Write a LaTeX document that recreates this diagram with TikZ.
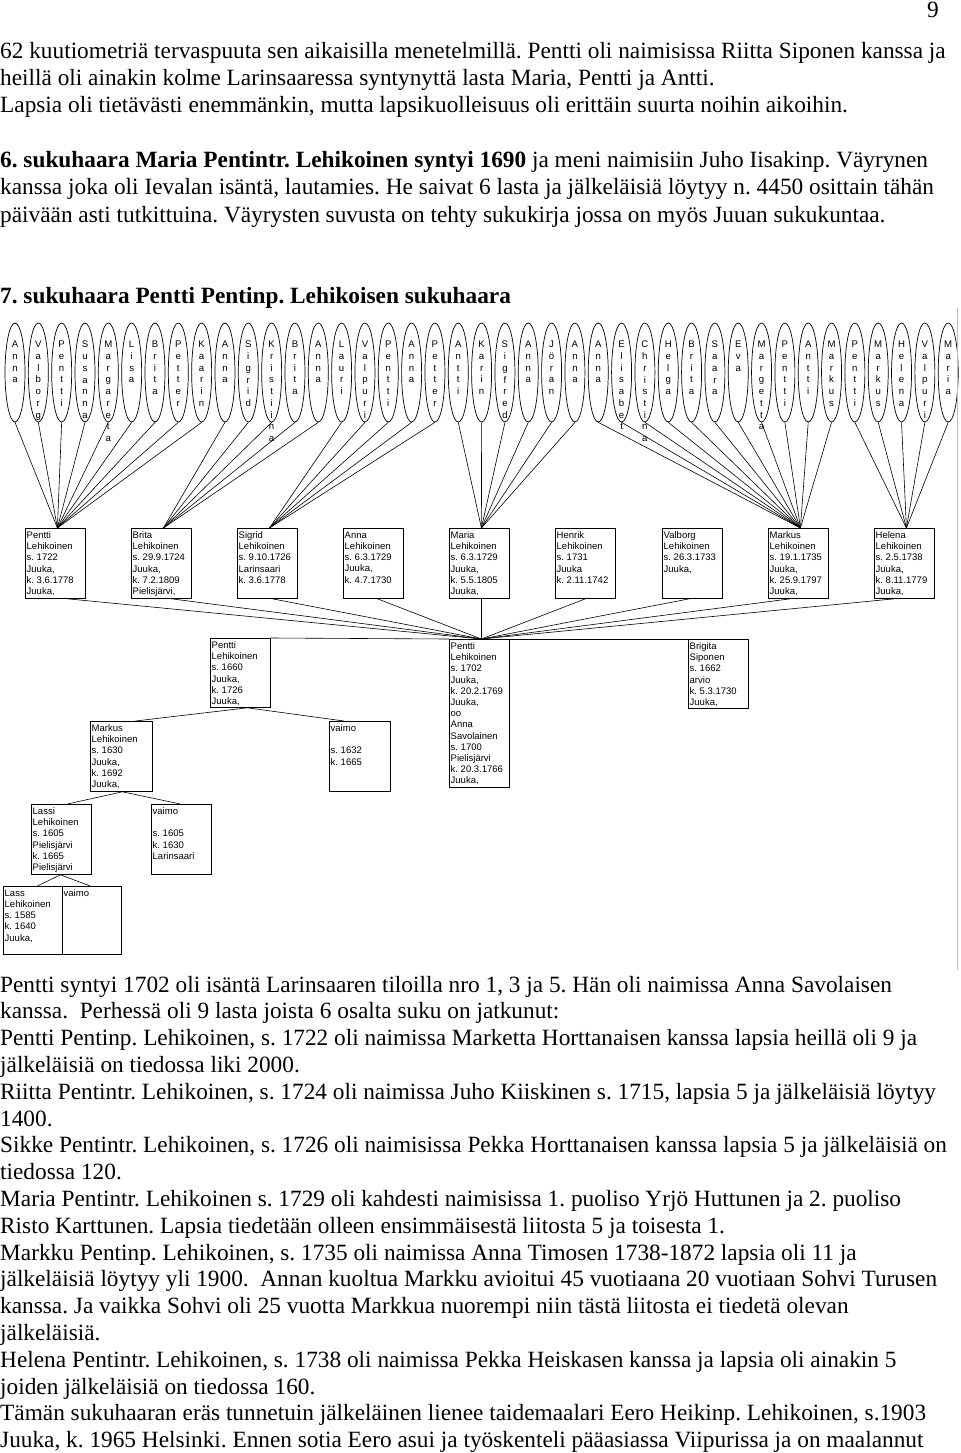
\documentclass[tikz,border=0pt]{standalone}
\usepackage{fontspec}
\setmainfont{Liberation Serif}
\newfontfamily\boxfont{Liberation Sans}
\usetikzlibrary{shapes.geometric,calc}

\newcommand\kidfont{\boxfont\fontsize{9.6bp}{11.7bp}\selectfont}
\newcommand\famfont{\boxfont\fontsize{9.5bp}{11.2bp}\selectfont}
\newcommand\bodyfont{\fontsize{23.3bp}{27bp}\selectfont\frenchspacing}

\tikzset{
 kidell/.style={draw, ellipse, minimum width=20bp, minimum height=99bp, inner sep=0pt, line width=0.7bp},
 kidtxt/.style={anchor=north, inner sep=0pt, align=center, font=\kidfont},
 fambox/.style={draw, anchor=north west, inner sep=0pt, line width=0.8bp},
 famtxt/.style={anchor=north west, inner sep=0pt, align=left, font=\famfont},
 conn/.style={line width=0.6bp},
 body/.style={anchor=base west, inner sep=0pt, font=\bodyfont},
}

\newcommand\kid[2]{%
 \pgfmathsetmacro\kx{15+23.33*(#1-1)}%
 \node[kidell] (e#1) at (\kx,372.5) {};
 \node[kidtxt] at (\kx,341) {#2};
}
\newcommand\famnode[6]{%
 \node[fambox, minimum width=#4bp, minimum height=#5bp] (#1) at (#2,#3) {};
 \node[famtxt] at ([shift={(1.5bp,-3.5bp)}]#1.north west) {#6};
}

\begin{document}
\frenchspacing
\begin{tikzpicture}[x=1bp,y=-1bp]
\useasboundingbox (0,0) rectangle (960,1453);
\fill[white] (0,0) rectangle (960,1453);

% ---------- text above ----------
\node[body] (pg) at (927,18) {9};
\node[body] (t1) at (0,59) {62 kuutiometriä tervaspuuta sen aikaisilla menetelmillä. Pentti oli naimisissa Riitta Siponen kanssa ja};
\node[body] (t2) at (0,86) {heillä oli ainakin kolme Larinsaaressa syntynyttä lasta Maria, Pentti ja Antti.};
\node[body] (t3) at (0,113) {Lapsia oli tietävästi enemmänkin, mutta lapsikuolleisuus oli erittäin suurta noihin aikoihin.};
\node[body] (t4) at (0,168) {\textbf{6. sukuhaara Maria Pentintr. Lehikoinen syntyi 1690} ja meni naimisiin Juho Iisakinp. Väyrynen};
\node[body] (t5) at (0,195) {kanssa joka oli Ievalan isäntä, lautamies. He saivat 6 lasta ja jälkeläisiä löytyy n. 4450 osittain tähän};
\node[body] (t6) at (0,222) {päivään asti tutkittuina. Väyrysten suvusta on tehty sukukirja jossa on myös Juuan sukukuntaa.};
\node[body] (t7) at (0,303) {\textbf{7. sukuhaara Pentti Pentinp. Lehikoisen sukuhaara}};

% ---------- children (ellipses) ----------
\kid{1}{A\\n\\n\\a}
\kid{2}{V\\a\\l\\b\\o\\r\\g}
\kid{3}{P\\e\\n\\t\\t\\i}
\kid{4}{S\\u\\s\\a\\n\\n\\a}
\kid{5}{M\\a\\r\\g\\a\\r\\e\\t\\a}
\kid{6}{L\\i\\s\\a}
\kid{7}{B\\r\\i\\t\\a}
\kid{8}{P\\e\\t\\t\\e\\r}
\kid{9}{K\\a\\a\\r\\i\\n}
\kid{10}{A\\n\\n\\a}
\kid{11}{S\\i\\g\\r\\i\\d}
\kid{12}{K\\r\\i\\s\\t\\i\\i\\n\\a}
\kid{13}{B\\r\\i\\t\\a}
\kid{14}{A\\n\\n\\a}
\kid{15}{L\\a\\u\\r\\i}
\kid{16}{V\\a\\l\\p\\u\\r\\i}
\kid{17}{P\\e\\n\\t\\t\\i}
\kid{18}{A\\n\\n\\a}
\kid{19}{P\\e\\t\\t\\e\\r}
\kid{20}{A\\n\\t\\t\\i}
\kid{21}{K\\a\\r\\i\\n}
\kid{22}{S\\i\\g\\f\\r\\e\\d}
\kid{23}{A\\n\\n\\a}
\kid{24}{J\\ö\\r\\a\\n}
\kid{25}{A\\n\\n\\a}
\kid{26}{A\\n\\n\\a}
\kid{27}{E\\l\\i\\s\\a\\b\\e\\t}
\kid{28}{C\\h\\r\\i\\s\\t\\i\\n\\a}
\kid{29}{H\\e\\l\\g\\a}
\kid{30}{B\\r\\i\\t\\a}
\kid{31}{S\\a\\a\\r\\a}
\kid{32}{E\\v\\a}
\kid{33}{M\\a\\r\\g\\e\\t\\t\\a}
\kid{34}{P\\e\\n\\t\\t\\i}
\kid{35}{A\\n\\t\\t\\i}
\kid{36}{M\\a\\r\\k\\u\\s}
\kid{37}{P\\e\\n\\t\\t\\i}
\kid{38}{M\\a\\r\\k\\u\\s}
\kid{39}{H\\e\\l\\e\\n\\a}
\kid{40}{V\\a\\l\\p\\u\\r\\i}
\kid{41}{M\\a\\r\\i\\a}

% ---------- row 1 boxes ----------
\famnode{b1}{25}{528}{60}{70}{Pentti\\Lehikoinen\\s. 1722\\Juuka,\\k. 3.6.1778\\Juuka,}
\famnode{b2}{131}{528}{60}{70}{Brita\\Lehikoinen\\s. 29.9.1724\\Juuka,\\k. 7.2.1809\\Pielisjärvi,}
\famnode{b3}{237}{528}{60}{70}{Sigrid\\Lehikoinen\\s. 9.10.1726\\Larinsaari\\k. 3.6.1778}
\famnode{b4}{343}{528}{60}{70}{Anna\\Lehikoinen\\s. 6.3.1729\\Juuka,\\k. 4.7.1730}
\famnode{b5}{449}{528}{60}{70}{Maria\\Lehikoinen\\s. 6.3.1729\\Juuka,\\k. 5.5.1805\\Juuka,}
\famnode{b6}{555}{528}{60}{70}{Henrik\\Lehikoinen\\s. 1731\\Juuka\\k. 2.11.1742}
\famnode{b7}{662}{528}{60}{70}{Valborg\\Lehikoinen\\s. 26.3.1733\\Juuka,}
\famnode{b8}{768}{528}{60}{70}{Markus\\Lehikoinen\\s. 19.1.1735\\Juuka,\\k. 25.9.1797\\Juuka,}
\famnode{b9}{874}{528}{60}{70}{Helena\\Lehikoinen\\s. 2.5.1738\\Juuka,\\k. 8.11.1779\\Juuka,}

% ---------- ancestors ----------
\famnode{p1660}{210}{638}{60}{69}{Pentti\\Lehikoinen\\s. 1660\\Juuka,\\k. 1726\\Juuka,}
\famnode{p1702}{449}{639}{60}{148}{Pentti\\Lehikoinen\\s. 1702\\Juuka,\\k. 20.2.1769\\Juuka,\\oo\\Anna\\Savolainen\\s. 1700\\Pielisjärvi\\k. 20.3.1766\\Juuka,}
\famnode{brig}{688}{639}{60}{69}{Brigita\\Siponen\\s. 1662\\arvio\\k. 5.3.1730\\Juuka,}
\famnode{m1630}{90}{721}{62}{70}{Markus\\Lehikoinen\\s. 1630\\Juuka,\\k. 1692\\Juuka,}
\famnode{v1632}{329}{721}{61}{70}{vaimo\\\mbox{}\\s. 1632\\k. 1665}
\famnode{lassi}{31}{804}{60}{70}{Lassi\\Lehikoinen\\s. 1605\\Pielisjärvi\\k. 1665\\Pielisjärvi}
\famnode{v1605}{151}{804}{60}{70}{vaimo\\\mbox{}\\s. 1605\\k. 1630\\Larinsaari}
\famnode{lass}{3}{886}{59}{68}{Lass\\Lehikoinen\\s. 1585\\k. 1640\\Juuka,}
\famnode{vlass}{62}{886}{59}{68}{vaimo}

% ---------- connectors: children -> parents ----------
\foreach \i in {1,...,9} \draw[conn] (e\i.south) -- ([xshift=2bp]b1.north);
\foreach \i in {10,...,14} \draw[conn] (e\i.south) -- ([xshift=2bp]b2.north);
\foreach \i in {15,...,19} \draw[conn] (e\i.south) -- ([xshift=2bp]b3.north);
\foreach \i in {20,...,25} \draw[conn] (e\i.south) -- ([xshift=2bp]b5.north);
\foreach \i in {26,...,36} \draw[conn] (e\i.south) -- ([xshift=2bp]b8.north);
\foreach \i in {37,...,41} \draw[conn] (e\i.south) -- ([xshift=2bp]b9.north);

\foreach \b/\s in {b1/12,b2/10,b3/5,b4/4,b5/2,b6/0,b7/-3,b8/-8,b9/-10}
  \draw[conn] ([xshift=\s bp]\b.south) -- ([xshift=2bp]p1702.north);

\draw[conn] (p1660.north east) -- (p1702.north west);
\draw[conn] (p1702.north east) -- (brig.north west);

\draw[conn] ([xshift=7bp]p1660.south) -- ([xshift=14bp]m1630.north);
\draw[conn] ([xshift=7bp]p1660.south) -- ([xshift=-16bp]v1632.north);
\draw[conn] ([xshift=1bp]m1630.south) -- ([xshift=6bp]lassi.north);
\draw[conn] ([xshift=1bp]m1630.south) -- ([xshift=-1bp]v1605.north);
\draw[conn] ([xshift=-1bp]lassi.south) -- ([xshift=4.5bp]lass.north);
\draw[conn] ([xshift=-1bp]lassi.south) -- ([xshift=-1.5bp]vlass.north);

\draw[gray!50, line width=1bp] (957,308) -- (957,970);

% ---------- text below ----------
\node[body] (u1) at (0,992) {Pentti syntyi 1702 oli isäntä Larinsaaren tiloilla nro 1, 3 ja 5. Hän oli naimissa Anna Savolaisen};
\node[body] (u2) at (0,1018.8) {kanssa.\ \ Perhessä oli 9 lasta joista 6 osalta suku on jatkunut:};
\node[body] (u3) at (0,1045.6) {Pentti Pentinp. Lehikoinen, s. 1722 oli naimissa Marketta Horttanaisen kanssa lapsia heillä oli 9 ja};
\node[body] (u4) at (0,1072.4) {jälkeläisiä on tiedossa liki 2000.};
\node[body] (u5) at (0,1099.2) {Riitta Pentintr. Lehikoinen, s. 1724 oli naimissa Juho Kiiskinen s. 1715, lapsia 5 ja jälkeläisiä löytyy};
\node[body] (u6) at (0,1126) {1400.};
\node[body] (u7) at (0,1152.8) {Sikke Pentintr. Lehikoinen, s. 1726 oli naimisissa Pekka Horttanaisen kanssa lapsia 5 ja jälkeläisiä on};
\node[body] (u8) at (0,1179.6) {tiedossa 120.};
\node[body] (u9) at (0,1206.4) {Maria Pentintr. Lehikoinen s. 1729 oli kahdesti naimisissa 1. puoliso Yrjö Huttunen ja 2. puoliso};
\node[body] (u10) at (0,1233.2) {Risto Karttunen. Lapsia tiedetään olleen ensimmäisestä liitosta 5 ja toisesta 1.};
\node[body] (u11) at (0,1260) {Markku Pentinp. Lehikoinen, s. 1735 oli naimissa Anna Timosen 1738-1872 lapsia oli 11 ja};
\node[body] (u12) at (0,1286.8) {jälkeläisiä löytyy yli 1900.\ \ Annan kuoltua Markku avioitui 45 vuotiaana 20 vuotiaan Sohvi Turusen};
\node[body] (u13) at (0,1313.6) {kanssa. Ja vaikka Sohvi oli 25 vuotta Markkua nuorempi niin tästä liitosta ei tiedetä olevan};
\node[body] (u14) at (0,1340.4) {jälkeläisiä.};
\node[body] (u15) at (0,1367.2) {Helena Pentintr. Lehikoinen, s. 1738 oli naimissa Pekka Heiskasen kanssa ja lapsia oli ainakin 5};
\node[body] (u16) at (0,1394) {joiden jälkeläisiä on tiedossa 160.};
\node[body] (u17) at (0,1420.8) {Tämän sukuhaaran eräs tunnetuin jälkeläinen lienee taidemaalari Eero Heikinp. Lehikoinen, s.1903};
\node[body] (u18) at (0,1447.6) {Juuka, k. 1965 Helsinki. Ennen sotia Eero asui ja työskenteli pääasiassa Viipurissa ja on maalannut};
\end{tikzpicture}
\end{document}
